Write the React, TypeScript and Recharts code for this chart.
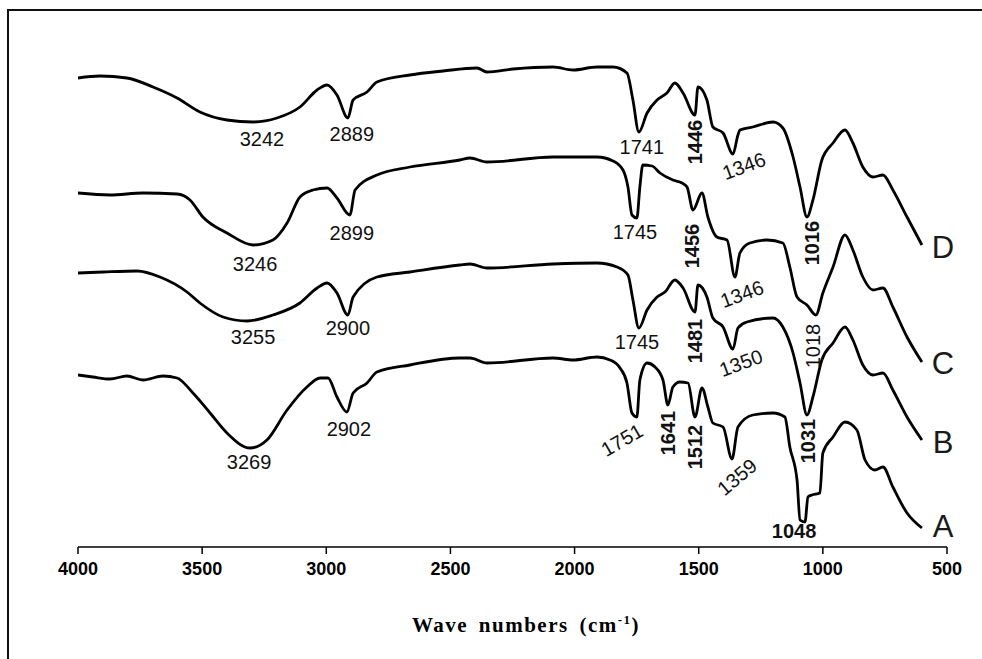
import React from 'react';
import { LineChart, Line, XAxis, YAxis, ReferenceDot } from 'recharts';

const xTicks = [4000, 3500, 3000, 2500, 2000, 1500, 1000, 500];

// spectrum D (top)
const wnD = [4000, 3911, 3803, 3698, 3601, 3509, 3400, 3295, 3199, 3106, 3037, 2997, 2957, 2913, 2892, 2836, 2796, 2663, 2530, 2393, 2353, 2248, 2087, 2006, 1910, 1845, 1789, 1765, 1741, 1708, 1668, 1628, 1596, 1563, 1515, 1503, 1467, 1443, 1402, 1362, 1342, 1334, 1282, 1201, 1161, 1120, 1092, 1064, 1040, 1004, 959, 911, 879, 839, 798, 758, 718, 661, 601];
const tD = [46.9, 47.1, 46.9, 46.0, 44.9, 43.5, 42.7, 42.5, 42.9, 44.0, 45.7, 46.2, 45.2, 42.9, 44.7, 45.5, 46.5, 47.2, 47.6, 47.9, 47.5, 47.8, 48.0, 47.7, 48.0, 48.0, 47.4, 44.7, 41.5, 43.4, 44.7, 45.4, 46.4, 45.4, 43.2, 46.0, 44.7, 42.0, 41.4, 39.3, 41.2, 41.7, 42.0, 42.5, 41.9, 39.0, 36.0, 33.0, 34.7, 38.7, 40.4, 41.7, 40.4, 38.0, 37.0, 37.2, 35.7, 33.0, 30.2];

// spectrum C
const wnC = [4000, 3871, 3738, 3601, 3549, 3497, 3400, 3295, 3215, 3158, 3106, 3054, 2997, 2957, 2905, 2884, 2796, 2663, 2462, 2421, 2353, 2087, 1910, 1845, 1805, 1785, 1769, 1749, 1737, 1725, 1688, 1656, 1604, 1567, 1547, 1523, 1487, 1463, 1427, 1386, 1354, 1334, 1294, 1225, 1161, 1133, 1104, 1064, 1028, 1000, 959, 911, 879, 839, 798, 758, 718, 661, 601];
const tC = [35.4, 35.2, 35.4, 35.3, 34.7, 33.0, 31.4, 30.2, 30.7, 32.4, 35.0, 35.7, 35.9, 34.9, 33.2, 35.7, 37.2, 38.0, 38.7, 38.9, 38.5, 39.0, 39.0, 38.6, 37.7, 36.0, 33.2, 32.9, 36.0, 38.2, 38.1, 37.4, 36.7, 36.4, 36.0, 33.7, 35.4, 33.0, 31.0, 30.7, 27.0, 29.4, 30.4, 30.7, 30.4, 28.0, 25.0, 24.2, 23.2, 25.4, 28.0, 31.2, 29.7, 27.0, 25.7, 25.9, 24.0, 21.0, 18.5];

// spectrum B
const wnB = [4000, 3899, 3762, 3670, 3561, 3509, 3416, 3319, 3215, 3106, 3037, 2997, 2957, 2913, 2892, 2796, 2663, 2462, 2421, 2353, 2087, 1910, 1829, 1785, 1765, 1741, 1708, 1668, 1636, 1596, 1563, 1515, 1503, 1467, 1443, 1402, 1362, 1342, 1306, 1201, 1161, 1120, 1092, 1064, 1040, 1004, 959, 911, 879, 839, 798, 758, 718, 661, 601];
const tB = [27.4, 27.5, 27.6, 27.0, 25.5, 24.4, 23.0, 22.6, 23.2, 24.4, 25.9, 26.4, 25.4, 23.2, 25.0, 27.0, 27.5, 28.2, 28.3, 27.9, 28.3, 28.4, 28.0, 27.2, 24.7, 21.9, 23.7, 25.0, 25.5, 26.7, 25.9, 23.5, 26.2, 25.0, 22.9, 22.0, 19.8, 21.9, 22.5, 22.9, 22.0, 19.4, 16.4, 13.2, 15.0, 18.7, 20.4, 22.0, 20.7, 18.2, 17.2, 17.4, 15.7, 13.0, 10.7];

// spectrum A (bottom)
const wnA = [4000, 3940, 3871, 3803, 3738, 3658, 3601, 3537, 3468, 3400, 3307, 3239, 3158, 3078, 3025, 2993, 2957, 2917, 2892, 2836, 2796, 2663, 2462, 2421, 2353, 2087, 2006, 1910, 1857, 1817, 1789, 1769, 1749, 1737, 1708, 1676, 1644, 1624, 1604, 1576, 1543, 1515, 1487, 1463, 1443, 1402, 1366, 1342, 1282, 1201, 1153, 1133, 1104, 1092, 1072, 1060, 1044, 1012, 1000, 959, 911, 863, 830, 790, 758, 718, 661, 601];
const tA = [17.2, 17.0, 16.8, 17.1, 16.7, 17.1, 16.9, 15.4, 13.4, 11.4, 9.9, 10.7, 13.7, 16.0, 16.9, 16.9, 15.0, 13.5, 15.4, 16.4, 17.5, 18.2, 18.9, 18.9, 18.4, 18.9, 18.7, 19.0, 18.7, 17.9, 16.4, 13.4, 13.0, 16.7, 18.4, 18.0, 16.7, 14.2, 16.0, 16.5, 16.4, 13.0, 15.9, 14.0, 12.4, 12.0, 8.8, 12.0, 13.2, 13.4, 13.0, 10.0, 6.7, 2.7, 2.5, 5.0, 5.2, 5.4, 9.4, 11.0, 12.5, 11.7, 8.7, 7.7, 8.0, 6.0, 3.4, 1.9];

const peakLabels = [
  { text: '3242', w: 3259, t: 40.8, angle: 0, bold: false },
  { text: '2889', w: 2897, t: 41.3, angle: 0, bold: false },
  { text: '1741', w: 1729, t: 40.0, angle: 0, bold: false },
  { text: '1446', w: 1515, t: 40.5, angle: -90, bold: true },
  { text: '1346', w: 1318, t: 38.1, angle: -20, bold: false },
  { text: '1016', w: 1044, t: 30.4, angle: -90, bold: true },
  { text: '3246', w: 3287, t: 28.3, angle: 0, bold: false },
  { text: '2899', w: 2897, t: 31.4, angle: 0, bold: false },
  { text: '1745', w: 1757, t: 31.5, angle: 0, bold: false },
  { text: '1456', w: 1527, t: 30.1, angle: -90, bold: true },
  { text: '1346', w: 1326, t: 25.3, angle: -20, bold: false },
  { text: '1018', w: 1040, t: 20.1, angle: -90, bold: false },
  { text: '3255', w: 3295, t: 21.0, angle: 0, bold: false },
  { text: '2900', w: 2913, t: 21.9, angle: 0, bold: false },
  { text: '1745', w: 1749, t: 20.5, angle: 0, bold: false },
  { text: '1481', w: 1515, t: 20.6, angle: -90, bold: true },
  { text: '1350', w: 1330, t: 18.4, angle: -20, bold: false },
  { text: '1031', w: 1060, t: 10.6, angle: -90, bold: true },
  { text: '3269', w: 3311, t: 8.5, angle: 0, bold: false },
  { text: '2902', w: 2909, t: 11.8, angle: 0, bold: false },
  { text: '1751', w: 1809, t: 10.7, angle: -30, bold: false },
  { text: '1641', w: 1624, t: 11.4, angle: -90, bold: true },
  { text: '1512', w: 1515, t: 10.0, angle: -90, bold: true },
  { text: '1359', w: 1346, t: 7.0, angle: -40, bold: false },
  { text: '1048', w: 1116, t: 1.6, angle: 0, bold: true },
];

const sampleNames = ['D', 'C', 'B', 'A'];
const sampleLabelT = [30.0, 18.4, 10.5, 2.1];
const sampleLabelW = 516;

const zip = (w: number[], t: number[]) => w.map((x, i) => ({ w: x, t: t[i] }));
const series = [zip(wnD, tD), zip(wnC, tC), zip(wnB, tB), zip(wnA, tA)];

const peakFont = '"Liberation Sans", Arial, sans-serif';

export default function App() {
  return (
    <div style={{ position: 'absolute', left: 0, top: 0, width: 982, height: 659, background: '#fff', overflow: 'hidden' }}>
      <div style={{ position: 'absolute', left: 7, top: 9, width: 1000, height: 700, borderLeft: '2px solid #111', borderTop: '2px solid #111' }} />
      <LineChart width={982} height={659} margin={{ top: 47, right: 35, bottom: 22, left: 78 }}>
        <XAxis
          type="number"
          dataKey="w"
          domain={[500, 4000]}
          reversed
          ticks={xTicks}
          allowDataOverflow
          height={90}
          axisLine={{ stroke: '#000', strokeWidth: 1.5 }}
          tickLine={{ stroke: '#000', strokeWidth: 1.5 }}
          tickSize={7}
          tickMargin={8}
          tick={{ fill: '#000', fontSize: 18, fontWeight: 700, fontFamily: '"Liberation Sans", Arial, sans-serif' }}
        />
        <YAxis type="number" domain={[0, 50]} hide allowDataOverflow />
        {series.map((d, i) => (
          <Line
            key={sampleNames[i]}
            data={d}
            dataKey="t"
            type="monotone"
            dot={false}
            activeDot={false}
            stroke="#000"
            strokeWidth={2.8}
            isAnimationActive={false}
          />
        ))}
        {peakLabels.map((p, i) => (
          <ReferenceDot
            key={'p' + i}
            x={p.w}
            y={p.t}
            r={0}
            shape={(s: any) => (
              <text
                x={s.cx}
                y={s.cy}
                dy="0.35em"
                textAnchor="middle"
                transform={`rotate(${p.angle} ${s.cx} ${s.cy})`}
                fontFamily={peakFont}
                fontSize={20}
                fontWeight={p.bold ? 700 : 400}
                fill="#111"
              >
                {p.text}
              </text>
            )}
          />
        ))}
        {sampleNames.map((n, i) => (
          <ReferenceDot
            key={'s' + n}
            x={sampleLabelW}
            y={sampleLabelT[i]}
            r={0}
            shape={(s: any) => (
              <text x={s.cx} y={s.cy} dy="0.36em" textAnchor="middle" fontFamily={peakFont} fontSize={31} fill="#1a1a1a">
                {n}
              </text>
            )}
          />
        ))}
      </LineChart>
      <div
        style={{
          position: 'absolute',
          left: 0,
          width: 1052,
          top: 612,
          textAlign: 'center',
          fontFamily: '"Liberation Serif", "Times New Roman", serif',
          fontWeight: 700,
          fontSize: 21,
          letterSpacing: 1.5,
          wordSpacing: 4,
          color: '#000',
        }}
      >
        Wave numbers (cm<sup style={{ fontSize: 13 }}>-1</sup>)
      </div>
    </div>
  );
}
